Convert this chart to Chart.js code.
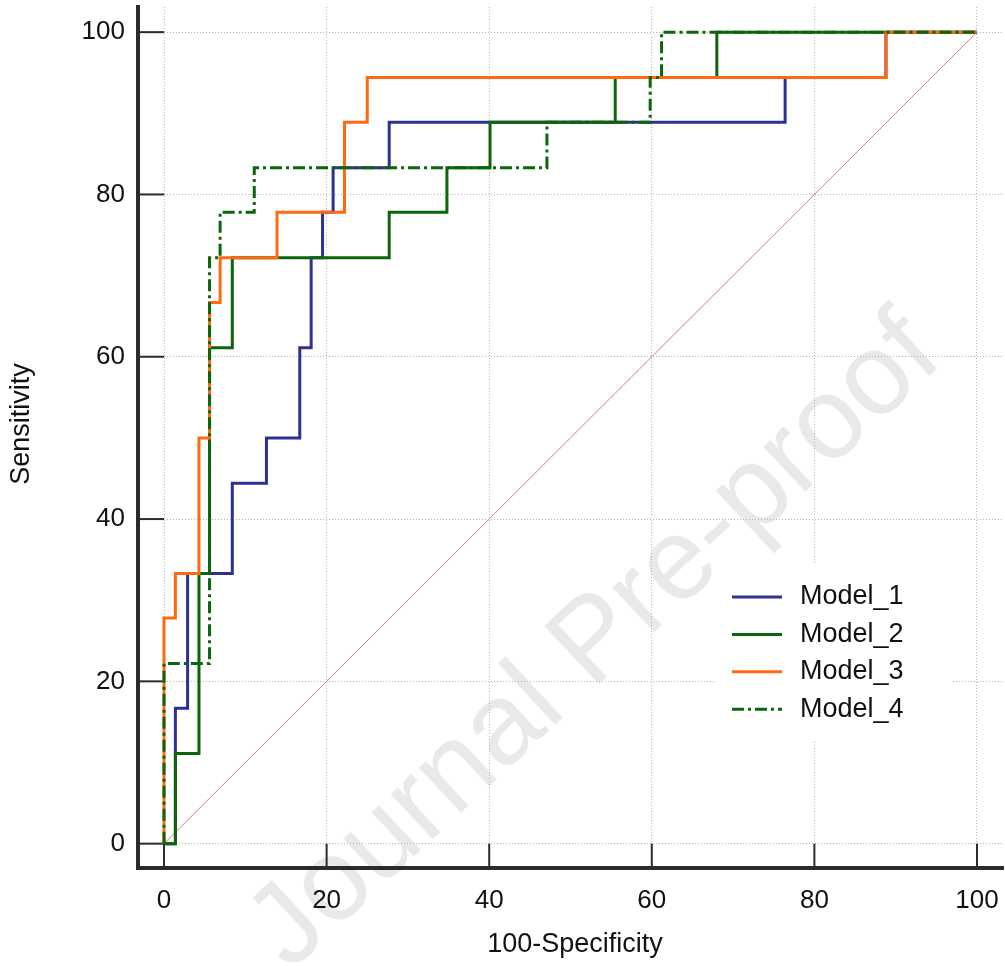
<!DOCTYPE html>
<html>
<head>
<meta charset="utf-8">
<script src="https://cdn.jsdelivr.net/npm/chart.js@4"></script>
<style>
    body { margin: 0; background: #ffffff; }
    #wrap { width: 1005px; height: 966px; }
</style>
</head>
<body>
<div id="wrap"><canvas id="roc" width="1005" height="966"></canvas></div>
<script>
// ROC curves: x = 100-Specificity, y = Sensitivity
var model1X = [0, 1.4, 2.9, 8.4, 12.6, 16.7, 18.1, 19.5, 20.8, 27.7, 76.4, 88.8, 100];
var model1Y = [0, 16.7, 33.3, 44.4, 50.0, 61.1, 72.2, 77.8, 83.3, 88.9, 94.4, 100, 100];

var model2X = [0, 1.4, 4.3, 5.6, 8.4, 27.7, 34.8, 40.1, 55.5, 68.0, 100];
var model2Y = [0, 11.1, 33.3, 61.1, 72.2, 77.8, 83.3, 88.9, 94.4, 100, 100];

var model3X = [0, 0, 1.4, 4.3, 5.6, 6.9, 13.9, 22.2, 25.0, 88.8, 100];
var model3Y = [0, 27.8, 33.3, 50.0, 66.7, 72.2, 77.8, 88.9, 94.4, 100, 100];

var model4X = [0, 0, 5.6, 6.9, 11.1, 47.1, 59.8, 61.2, 100];
var model4Y = [0, 22.2, 72.2, 77.8, 83.3, 88.9, 94.4, 100, 100];

var diagX = [0, 100];
var diagY = [0, 100];

var seriesNames = ["Model_1", "Model_2", "Model_3", "Model_4"];
var tickValues = [0, 20, 40, 60, 80, 100];

var FONT = '"Liberation Sans", Arial, sans-serif';

function toPoints(xs, ys) {
    var pts = [];
    for (var i = 0; i < xs.length; i++) {
        pts.push({ x: xs[i], y: ys[i] });
    }
    return pts;
}

// watermark behind everything
var watermark = {
    id: "watermark",
    beforeDraw: function (chart) {
        var ctx = chart.ctx;
        ctx.save();
        ctx.translate(290, 972);
        ctx.rotate(-43 * Math.PI / 180);
        ctx.font = "116px " + FONT;
        ctx.fillStyle = "#e9e9e9";
        ctx.textBaseline = "alphabetic";
        ctx.fillText("Journal Pre-proof", 0, 0);
        ctx.restore();
    }
};

// tick marks run inward from the axis lines to the zero lines
var innerTicks = {
    id: "innerTicks",
    beforeDatasetsDraw: function (chart) {
        var ctx = chart.ctx;
        var xs = chart.scales.x, ys = chart.scales.y, area = chart.chartArea;
        ctx.save();
        ctx.strokeStyle = "#2b2b2b";
        ctx.lineWidth = 2;
        tickValues.forEach(function (v) {
            var py = ys.getPixelForValue(v);
            ctx.beginPath();
            ctx.moveTo(area.left, py);
            ctx.lineTo(xs.getPixelForValue(0), py);
            ctx.stroke();
            var px = xs.getPixelForValue(v);
            ctx.beginPath();
            ctx.moveTo(px, area.bottom);
            ctx.lineTo(px, ys.getPixelForValue(0));
            ctx.stroke();
        });
        ctx.restore();
    }
};

// axis titles + legend box inside the plot
var extras = {
    id: "extras",
    afterDraw: function (chart) {
        var ctx = chart.ctx;
        ctx.save();
        ctx.fillStyle = "#111";
        ctx.font = "27px " + FONT;
        ctx.textAlign = "center";
        ctx.textBaseline = "middle";
        ctx.fillText("100-Specificity", 575, 945);
        ctx.translate(22, 424);
        ctx.rotate(-Math.PI / 2);
        ctx.fillText("Sensitivity", 0, 0);
        ctx.restore();

        ctx.save();
        ctx.fillStyle = "#ffffff";
        ctx.fillRect(715, 565, 238, 177);
        ctx.font = "27px " + FONT;
        ctx.textBaseline = "middle";
        seriesNames.forEach(function (name, i) {
            var ds = chart.data.datasets[i];
            var y = 597 + i * 37.4;
            ctx.strokeStyle = ds.borderColor;
            ctx.lineWidth = 3;
            ctx.setLineDash(ds.borderDash || []);
            ctx.beginPath();
            ctx.moveTo(732, y);
            ctx.lineTo(782, y);
            ctx.stroke();
            ctx.setLineDash([]);
            ctx.fillStyle = "#111";
            ctx.fillText(name, 800, y);
        });
        ctx.restore();
    }
};

var ctxRoc = document.getElementById("roc").getContext("2d");

new Chart(ctxRoc, {
    type: "line",
    data: {
        datasets: [
            {
                label: seriesNames[0],
                data: toPoints(model1X, model1Y),
                borderColor: "#2e3192",
                borderWidth: 3,
                stepped: true,
                pointRadius: 0,
                order: 4
            },
            {
                label: seriesNames[1],
                data: toPoints(model2X, model2Y),
                borderColor: "#0b650b",
                borderWidth: 3,
                stepped: true,
                pointRadius: 0,
                order: 3
            },
            {
                label: seriesNames[2],
                data: toPoints(model3X, model3Y),
                borderColor: "#ff6a10",
                borderWidth: 3,
                stepped: true,
                pointRadius: 0,
                order: 2
            },
            {
                label: seriesNames[3],
                data: toPoints(model4X, model4Y),
                borderColor: "#0b650b",
                borderWidth: 3,
                borderDash: [12, 4, 3, 4],
                stepped: true,
                pointRadius: 0,
                order: 1
            },
            {
                label: "reference",
                data: toPoints(diagX, diagY),
                borderColor: "#c98080",
                borderWidth: 1,
                pointRadius: 0,
                order: 5
            }
        ]
    },
    options: {
        responsive: false,
        animation: false,
        layout: {
            padding: { top: 7, right: 2, left: 0, bottom: 0 }
        },
        scales: {
            x: {
                type: "linear",
                min: -3.2,
                max: 103.2,
                afterBuildTicks: function (scale) {
                    scale.ticks = tickValues.map(function (v) { return { value: v }; });
                },
                afterFit: function (scale) {
                    scale.height = 98;
                    scale.paddingLeft = 0;
                    scale.paddingRight = 0;
                },
                grid: {
                    color: "#b4b4b4",
                    lineWidth: 1,
                    drawTicks: false
                },
                border: {
                    display: true,
                    color: "#2b2b2b",
                    width: 4,
                    dash: [1, 2]
                },
                ticks: {
                    font: { family: FONT, size: 26 },
                    color: "#111",
                    padding: 17,
                    maxRotation: 0,
                    autoSkip: false
                }
            },
            y: {
                type: "linear",
                min: -3.0,
                max: 103.1,
                afterBuildTicks: function (scale) {
                    scale.ticks = tickValues.map(function (v) { return { value: v }; });
                },
                afterFit: function (scale) {
                    scale.width = 138;
                    scale.paddingTop = 0;
                    scale.paddingBottom = 0;
                },
                grid: {
                    color: "#b4b4b4",
                    lineWidth: 1,
                    drawTicks: false
                },
                border: {
                    display: true,
                    color: "#2b2b2b",
                    width: 4,
                    dash: [1, 2]
                },
                ticks: {
                    font: { family: FONT, size: 26 },
                    color: "#111",
                    padding: 13,
                    autoSkip: false
                }
            }
        },
        plugins: {
            legend: { display: false },
            tooltip: { enabled: false }
        }
    },
    plugins: [watermark, innerTicks, extras]
});
</script>
</body>
</html>
